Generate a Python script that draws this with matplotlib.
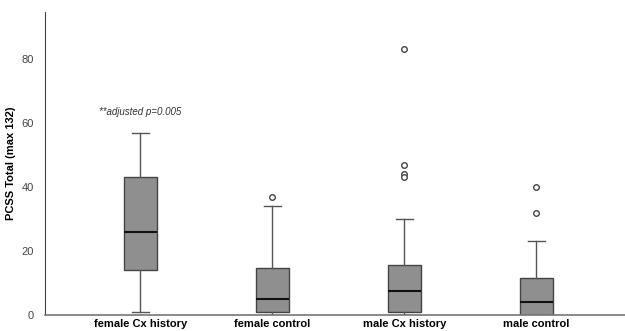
import matplotlib
matplotlib.use("Agg")
import matplotlib.pyplot as plt

plt.rcParams['font.family'] = ['Liberation Sans', 'DejaVu Sans']

# Datos
groups = ['female Cx history', 'female control', 'male Cx history', 'male control']
whisker_low = [1, 0, 0, 0]
q1 = [14, 1, 1, 0]
median = [26, 4.9, 7.5, 4]
q3 = [43, 14.6, 15.8, 11.5]
whisker_high = [57, 34, 30, 23]
outliers = [[], [37], [83, 47, 44.2, 43.2], [40, 32]]

annot_text = '**adjusted p=0.005'
annot_y = 63.5

stats = []
for i, g in enumerate(groups):
    stats.append({
        'label': g, 'whislo': whisker_low[i], 'q1': q1[i], 'med': median[i],
        'q3': q3[i], 'whishi': whisker_high[i], 'fliers': outliers[i],
    })

fig = plt.figure(figsize=(6.25, 3.31), dpi=100)
ax = fig.add_axes([0.072, 0.048, 0.928, 0.916])

edge = '#444444'
ax.bxp(stats, positions=range(len(groups)), widths=0.25, patch_artist=True,
       boxprops=dict(facecolor='#8f8f8f', edgecolor=edge, linewidth=1.0),
       medianprops=dict(color='#111111', linewidth=1.5),
       whiskerprops=dict(color='#555555', linewidth=1.0),
       capprops=dict(color='#555555', linewidth=1.0),
       capwidths=0.13,
       flierprops=dict(marker='o', markersize=4, markerfacecolor='white',
                       markeredgecolor='#444444', markeredgewidth=1.0))

ax.text(0, annot_y, annot_text, ha='center', va='center', fontsize=7,
        style='italic', color='#333333')

ax.set_xlim(-0.72, 3.67)
ax.set_ylim(0, 94.7)
ax.set_yticks([0, 20, 40, 60, 80])
ax.set_xticks(range(len(groups)))
ax.set_xticklabels(groups, fontsize=8, fontweight='bold')
ax.tick_params(axis='x', length=0, pad=3)
ax.tick_params(axis='y', length=0, labelsize=8, labelcolor='#444444', pad=8)
ax.set_ylabel('PCSS Total (max 132)', fontsize=8, fontweight='bold', labelpad=4)

for s in ['top', 'right']:
    ax.spines[s].set_visible(False)
ax.spines['left'].set_color('#444444')
ax.spines['bottom'].set_color('#777777')
ax.spines['bottom'].set_linewidth(1.2)

fig.savefig('out.png', dpi=100)
